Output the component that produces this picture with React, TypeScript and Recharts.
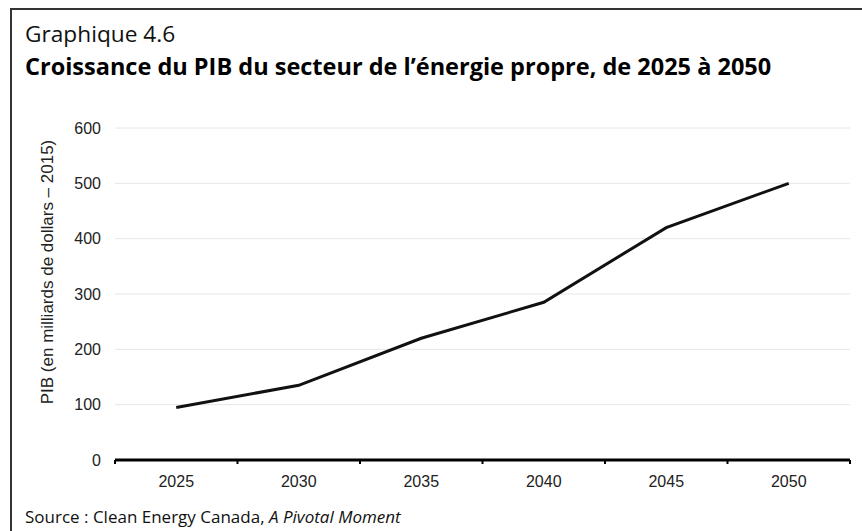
import { LineChart, Line, XAxis, YAxis, CartesianGrid } from 'recharts';

// Croissance du PIB du secteur de l'énergie propre (milliards de dollars de 2015)
const years = [2025, 2030, 2035, 2040, 2045, 2050];
const gdp = [95, 135, 220, 285, 420, 500];
const yTicks = [0, 100, 200, 300, 400, 500, 600];
// limites entre catégories (marques de graduation style Excel)
const xBounds = [2022.5, 2027.5, 2032.5, 2037.5, 2042.5, 2047.5, 2052.5];

const data = years.map((year, i) => ({ year, gdp: gdp[i] }));

const AXIS_FONT = '"Liberation Sans", Arial, sans-serif';
const TITLE_FONT = '"Open Sans", "Noto Sans", sans-serif';

export default function App() {
  return (
    <div style={{ position: 'absolute', left: 0, top: 0, width: 862, height: 531, overflow: 'hidden', background: '#fff' }}>
      {/* cadre */}
      <div
        style={{
          position: 'absolute',
          left: 10,
          top: 8,
          width: 900,
          height: 600,
          border: '2px solid #333',
        }}
      />

      <div style={{ position: 'absolute', left: 25, top: 23, fontFamily: TITLE_FONT, fontSize: 22.7, lineHeight: 1, color: '#111', whiteSpace: 'nowrap' }}>
        Graphique 4.6
      </div>
      <div
        style={{
          position: 'absolute',
          left: 25,
          top: 55,
          fontFamily: TITLE_FONT,
          fontSize: 23.5,
          fontWeight: 700,
          lineHeight: 1,
          color: '#000',
          whiteSpace: 'nowrap',
        }}
      >
        Croissance du PIB du secteur de l’énergie propre, de 2025 à 2050
      </div>

      {/* titre de l'axe Y */}
      <div
        style={{
          position: 'absolute',
          left: 48,
          top: 272,
          transform: 'translate(-50%, -50%) rotate(-90deg)',
          fontFamily: AXIS_FONT,
          fontSize: 17,
          color: '#222',
          whiteSpace: 'nowrap',
        }}
      >
        PIB (en milliards de dollars – 2015)
      </div>

      <div style={{ position: 'absolute', left: 0, top: 0 }}>
        <LineChart width={862} height={500} data={data} margin={{ top: 128, right: 12, bottom: 10, left: 55 }}>
          <CartesianGrid xAxisId="a" vertical={false} stroke="#e6e6e6" strokeWidth={1} />
          <XAxis
            xAxisId="b"
            dataKey="year"
            type="number"
            domain={[2022.5, 2052.5]}
            ticks={years}
            height={29}
            axisLine={false}
            tickLine={false}
            tickMargin={9}
            tick={{ fontFamily: AXIS_FONT, fontSize: 16, fill: '#222' }}
          />
          <XAxis
            xAxisId="a"
            dataKey="year"
            type="number"
            domain={[2022.5, 2052.5]}
            ticks={xBounds}
            tickFormatter={() => ''}
            height={1}
            tickSize={4}
            axisLine={{ stroke: '#000', strokeWidth: 3 }}
            tickLine={{ stroke: '#000', strokeWidth: 2 }}
          />
          <YAxis
            type="number"
            domain={[0, 600]}
            ticks={yTicks}
            width={60}
            axisLine={false}
            tickLine={false}
            tickMargin={8}
            tick={{ fontFamily: AXIS_FONT, fontSize: 16, fill: '#222' }}
          />
          <Line
            xAxisId="a"
            dataKey="gdp"
            type="linear"
            stroke="#111"
            strokeWidth={3}
            dot={false}
            activeDot={false}
            isAnimationActive={false}
          />
        </LineChart>
      </div>

      <div style={{ position: 'absolute', left: 25, top: 508, fontFamily: TITLE_FONT, fontSize: 17, lineHeight: 1, color: '#111', whiteSpace: 'nowrap' }}>
        Source : Clean Energy Canada, <i>A Pivotal Moment</i>
      </div>
    </div>
  );
}
